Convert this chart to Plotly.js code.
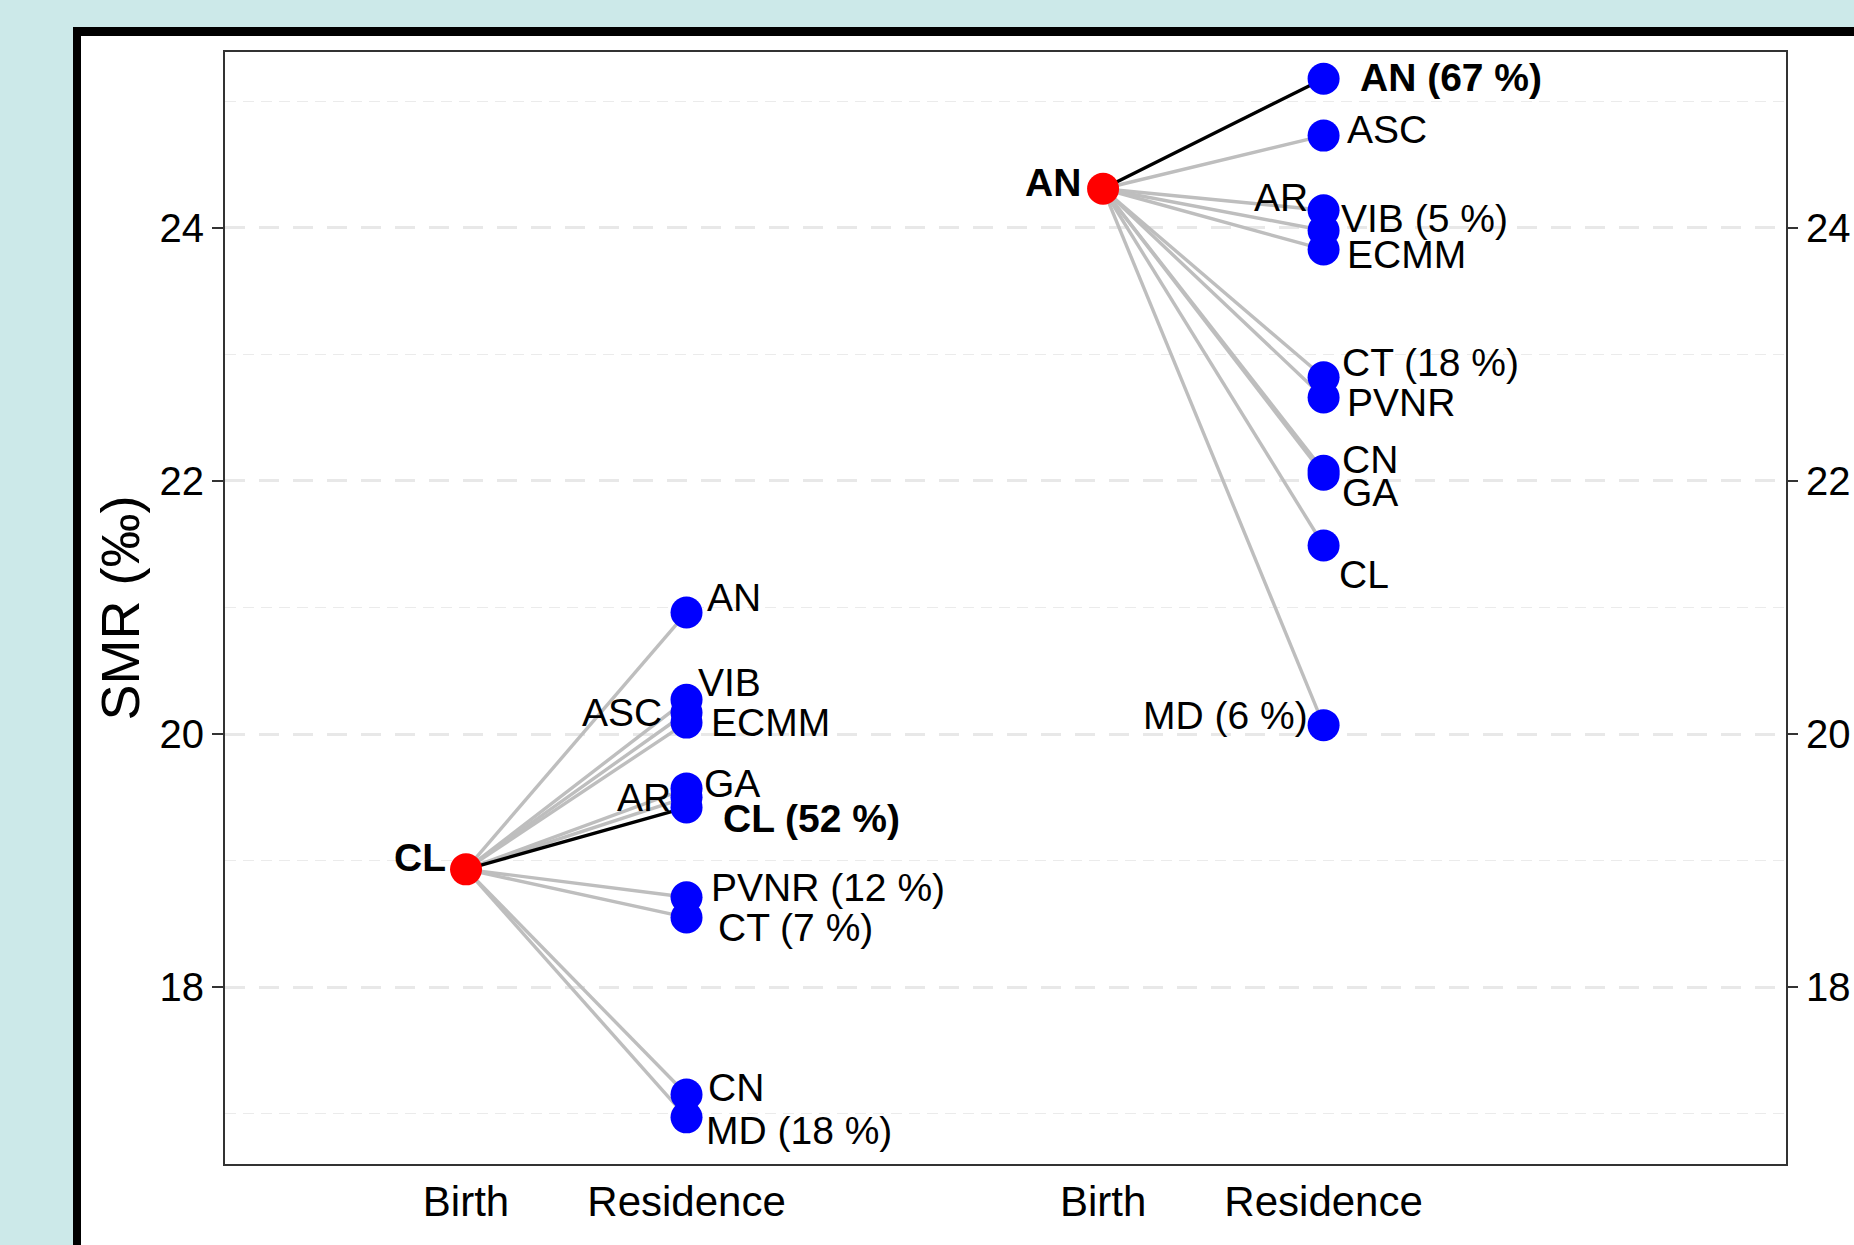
<!DOCTYPE html>
<html>
<head>
<meta charset="utf-8">
<script src="https://cdn.plot.ly/plotly-3.0.1.min.js"></script>
<style>
  html, body { margin: 0; padding: 0; width: 1854px; height: 1245px; overflow: hidden; background: #cce9e9; }
  #frame { position: absolute; left: 73px; top: 27px; width: 2000px; height: 1400px;
           border-left: 8px solid #000; border-top: 9px solid #000; background: #fff; }
  #chart { position: absolute; left: 0; top: 0; width: 1854px; height: 1245px; }
</style>
</head>
<body>
<div id="frame"></div>
<div id="chart"></div>
<script>
// ---- Data ----
// x-axis category positions (Birth / Residence for each birth region)
const xTickVals   = [1, 2, 3.889, 4.889];
const xTickText   = ["Birth", "Residence", "Birth", "Residence"];

// Group 1: born in CL
const clBirthName = "CL";
const clBirthSMR  = 18.93;
const clResNames  = ["AN", "VIB", "ASC", "ECMM", "GA", "AR", "CL", "PVNR", "CT", "CN", "MD"];
const clResSMR    = [20.96, 20.27, 20.17, 20.09, 19.57, 19.50, 19.42, 18.71, 18.55, 17.15, 16.97];
const clResPct    = [null, null, null, null, null, null, 52, 12, 7, null, 18];

// Group 2: born in AN
const anBirthName = "AN";
const anBirthSMR  = 24.31;
const anResNames  = ["AN", "ASC", "AR", "VIB", "ECMM", "CT", "PVNR", "CN", "GA", "CL", "MD"];
const anResSMR    = [25.18, 24.73, 24.14, 23.98, 23.83, 22.82, 22.66, 22.08, 22.05, 21.49, 20.07];
const anResPct    = [67, null, null, 5, null, 18, null, null, null, null, 6];

const yTickVals   = [18, 20, 22, 24];
const yMinorVals  = [17, 19, 21, 23, 25];

// ---- Label placement (styling, pixel offsets from each point) ----
const clLabelOffsets = [
  ["left", 18, -15], ["left", 9, -17], ["right", -23, 0], ["left", 22, 0],
  ["left", 15, -5], ["right", -14, 0], ["left", 34, 11], ["left", 22, -10],
  ["left", 29, 10], ["left", 19, -7], ["left", 17, 13]
];
const anLabelOffsets = [
  ["left", 34, -1], ["left", 21, -6], ["right", -14, -13], ["left", 15, -12],
  ["left", 21, 5], ["left", 16, -15], ["left", 21, 5], ["left", 16, -11],
  ["left", 16, 18], ["left", 13, 29], ["right", -14, -10]
];
const clBirthOffset = ["right", -18, -12];
const anBirthOffset = ["right", -20, -6];

// ---- Build traces ----
const FONT = "Arial, 'Liberation Sans', sans-serif";
const groups = [
  {bx: xTickVals[0], rx: xTickVals[1], bName: clBirthName, bSMR: clBirthSMR,
   names: clResNames, smr: clResSMR, pct: clResPct, offs: clLabelOffsets, bOff: clBirthOffset},
  {bx: xTickVals[2], rx: xTickVals[3], bName: anBirthName, bSMR: anBirthSMR,
   names: anResNames, smr: anResSMR, pct: anResPct, offs: anLabelOffsets, bOff: anBirthOffset}
];

const traces = [];
const annotations = [];
groups.forEach(g => {
  const gx = [], gy = [], kx = [], ky = [];
  g.names.forEach((n, i) => {
    if (n === g.bName) { kx.push(g.bx, g.rx, null); ky.push(g.bSMR, g.smr[i], null); }
    else { gx.push(g.bx, g.rx, null); gy.push(g.bSMR, g.smr[i], null); }
  });
  traces.push({x: gx, y: gy, mode: "lines", line: {color: "#bebebe", width: 3.4}, hoverinfo: "skip", showlegend: false});
  traces.push({x: kx, y: ky, mode: "lines", line: {color: "#000000", width: 3.4}, hoverinfo: "skip", showlegend: false});
});
groups.forEach(g => {
  traces.push({x: g.names.map(() => g.rx), y: g.smr, mode: "markers",
    marker: {color: "#0000ff", size: 32, line: {width: 0}}, showlegend: false});
  traces.push({x: [g.bx], y: [g.bSMR], mode: "markers",
    marker: {color: "#ff0000", size: 32, line: {width: 0}}, showlegend: false});
  g.names.forEach((n, i) => {
    let t = n + (g.pct[i] != null ? " (" + g.pct[i] + " %)" : "");
    if (n === g.bName) t = "<b>" + t + "</b>";
    const o = g.offs[i];
    annotations.push({x: g.rx, y: g.smr[i], xref: "x", yref: "y", text: t, showarrow: false,
      xanchor: o[0], yanchor: "middle", xshift: o[1], yshift: -o[2],
      font: {family: FONT, size: 39, color: "#000"}});
  });
  annotations.push({x: g.bx, y: g.bSMR, xref: "x", yref: "y", text: "<b>" + g.bName + "</b>", showarrow: false,
    xanchor: g.bOff[0], yanchor: "middle", xshift: g.bOff[1], yshift: -g.bOff[2],
    font: {family: FONT, size: 39, color: "#000"}});
});
// invisible trace to anchor the right-hand axis
traces.push({x: [xTickVals[0], xTickVals[2]], y: [clBirthSMR, anBirthSMR], yaxis: "y2", mode: "markers",
  marker: {opacity: 0}, hoverinfo: "skip", showlegend: false});

const yRange = [16.601, 25.391];
const layout = {
  width: 1854, height: 1245,
  margin: {l: 225, r: 68, t: 52, b: 81, pad: 0},
  paper_bgcolor: "rgba(0,0,0,0)",
  plot_bgcolor: "#ffffff",
  showlegend: false,
  font: {family: FONT, color: "#000"},
  xaxis: {
    range: [-0.093, 6.986], tickmode: "array", tickvals: xTickVals, ticktext: xTickText,
    showgrid: false, zeroline: false, showline: true, mirror: true, linecolor: "#333333", linewidth: 2,
    ticks: "", ticklabelstandoff: 0, tickfont: {family: FONT, size: 42, color: "#000"}
  },
  yaxis: {
    range: yRange, tickmode: "array", tickvals: yTickVals,
    showgrid: true, gridcolor: "#e8e8e8", gridwidth: 3, griddash: "20px,14px",
    minor: {tickmode: "array", tickvals: yMinorVals, showgrid: true, gridcolor: "#ebebeb", gridwidth: 1.5, griddash: "11px,7px", ticks: ""},
    zeroline: false, showline: true, mirror: true, linecolor: "#333333", linewidth: 2,
    ticks: "outside", ticklen: 11, tickwidth: 2.5, tickcolor: "#333333", ticklabelstandoff: 0,
    tickfont: {family: FONT, size: 40, color: "#000"},
    title: {text: "SMR (‰)", font: {family: FONT, size: 54, color: "#000"}, standoff: 3}
  },
  yaxis2: {
    range: yRange, tickmode: "array", tickvals: yTickVals, overlaying: "y", side: "right", anchor: "x",
    showgrid: false, zeroline: false, showline: false,
    ticks: "outside", ticklen: 11, tickwidth: 2.5, tickcolor: "#333333", ticklabelstandoff: 0,
    tickfont: {family: FONT, size: 40, color: "#000"}
  },
  annotations: annotations
};

Plotly.newPlot("chart", traces, layout, {staticPlot: true, displayModeBar: false});
</script>
</body>
</html>
